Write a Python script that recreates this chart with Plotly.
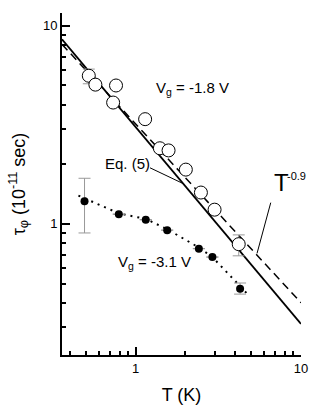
import plotly.graph_objects as go
import math

# Vg = -1.8 V (open circles)
T_a = [0.52, 0.57, 0.76, 0.73, 1.14, 1.40, 1.58, 2.01, 2.48, 3.00, 4.20]
tau_a = [5.60, 5.05, 5.00, 4.10, 3.38, 2.41, 2.35, 1.88, 1.44, 1.18, 0.79]
err_a_plus = [0.45, 0, 0, 0, 0, 0, 0, 0, 0, 0, 0.09]
err_a_minus = [0.50, 0, 0, 0, 0, 0, 0, 0, 0, 0, 0.10]

# Vg = -3.1 V (filled circles)
T_b = [0.49, 0.79, 1.15, 1.55, 2.41, 2.91, 4.28]
tau_b = [1.30, 1.12, 1.05, 0.93, 0.75, 0.68, 0.47]
err_b_plus = [0.40, 0, 0, 0, 0, 0, 0.033]
err_b_minus = [0.40, 0, 0, 0, 0, 0, 0.028]

# dotted guide through the Vg = -3.1 V points
T_guide = [0.45, 0.79, 1.15, 1.55, 2.41, 2.91, 4.90]
tau_guide = [1.39, 1.13, 1.06, 0.94, 0.76, 0.68, 0.43]

# Eq. (5) (solid) and T^-0.9 (dashed)
T_eq5 = [0.358, 10]
tau_eq5 = [8.55, 0.313]
T_pow = [0.358, 10]
tau_pow = [8.07, 0.40]

FONT = "Liberation Sans, Arial, Helvetica, sans-serif"

fig = go.Figure()

fig.add_trace(go.Scatter(x=T_guide, y=tau_guide, mode="lines",
                         line=dict(color="black", width=2, dash="2px,5px")))
fig.add_trace(go.Scatter(x=T_pow, y=tau_pow, mode="lines",
                         line=dict(color="black", width=1.5, dash="8px,5px")))
fig.add_trace(go.Scatter(x=T_eq5, y=tau_eq5, mode="lines",
                         line=dict(color="black", width=1.8)))

fig.add_trace(go.Scatter(
    x=T_a, y=tau_a, mode="markers",
    marker=dict(symbol="circle", size=13, color="white",
                line=dict(color="black", width=1)),
    error_y=dict(type="data", symmetric=False, array=err_a_plus,
                 arrayminus=err_a_minus, color="#999999", thickness=1, width=6)))
fig.add_trace(go.Scatter(
    x=T_b, y=tau_b, mode="markers",
    marker=dict(symbol="circle", size=8, color="black"),
    error_y=dict(type="data", symmetric=False, array=err_b_plus,
                 arrayminus=err_b_minus, color="#999999", thickness=1, width=6)))

# leader lines
fig.add_shape(type="line", xref="x", yref="y", x0=1.22, y0=1.92, x1=1.93, y1=1.60,
              line=dict(color="black", width=1))
fig.add_shape(type="line", xref="x", yref="y", x0=6.56, y0=1.28, x1=5.42, y1=0.71,
              line=dict(color="black", width=1))

def ann(text, x, y, size, xanchor="left"):
    fig.add_annotation(text=text, x=math.log10(x), y=math.log10(y), xref="x", yref="y",
                       showarrow=False, xanchor=xanchor, yanchor="middle",
                       font=dict(family=FONT, size=size, color="black"))

ann("V<sub>g</sub> = -1.8 V", 1.29, 4.85, 15)
ann("V<sub>g</sub> = -3.1 V", 0.76, 0.64, 15)
ann("Eq. (5)", 0.635, 2.01, 15)
ann("T", 6.65, 1.61, 24)
ann("-0.9", 8.0, 1.74, 11)

minor_x = [0.4, 0.5, 0.6, 0.7, 0.8, 0.9, 2, 3, 4, 5, 6, 7, 8, 9]
minor_y = [0.3, 0.4, 0.5, 0.6, 0.7, 0.8, 0.9, 2, 3, 4, 5, 6, 7, 8, 9]

fig.update_xaxes(type="log", range=[math.log10(0.358), 1],
                 tickvals=[1, 10], ticktext=["1", "10"],
                 ticks="inside", ticklen=8, tickwidth=1.5, tickcolor="black",
                 minor=dict(tickvals=minor_x, ticks="inside", ticklen=4,
                            tickwidth=1.5, tickcolor="black"),
                 showline=True, linecolor="black", linewidth=2,
                 showgrid=False, zeroline=False,
                 tickfont=dict(family=FONT, size=13, color="black"),
                 title=dict(text="T (K)", font=dict(family=FONT, size=18, color="black"),
                            standoff=14))
fig.update_yaxes(type="log", range=[-0.662, 1.065],
                 tickvals=[1, 10], ticktext=["1", "10"],
                 ticks="inside", ticklen=8, tickwidth=1.5, tickcolor="black",
                 minor=dict(tickvals=minor_y, ticks="inside", ticklen=4,
                            tickwidth=1.5, tickcolor="black"),
                 showline=True, linecolor="black", linewidth=2,
                 showgrid=False, zeroline=False,
                 tickfont=dict(family=FONT, size=13, color="black"),
                 title=dict(text="τ<sub>φ</sub> (10<sup>-11</sup> sec)",
                            font=dict(family=FONT, size=18, color="black"),
                            standoff=13))

fig.update_layout(width=327, height=414,
                  margin=dict(l=62, r=26, t=13, b=55),
                  plot_bgcolor="white", paper_bgcolor="white",
                  showlegend=False)

fig.write_html("out.html", config={"displayModeBar": False},
               post_script="document.body.style.margin='0';")
